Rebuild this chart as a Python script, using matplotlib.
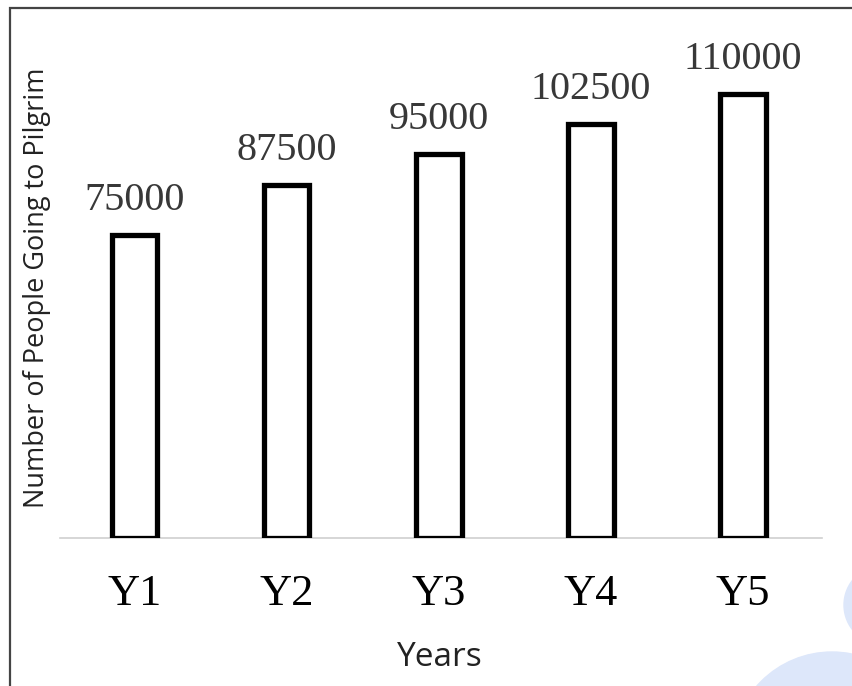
import matplotlib.pyplot as plt
from matplotlib.patches import Rectangle, Circle

years = ["Y1", "Y2", "Y3", "Y4", "Y5"]
pilgrims = [75000, 87500, 95000, 102500, 110000]

fig = plt.figure(figsize=(8.52, 6.86), dpi=100)
ax = fig.add_axes([0.0704, 0.2157, 0.8944, 0.7362])

x = range(len(years))
ax.bar(x, pilgrims, width=0.30, color="white", edgecolor="black", linewidth=3.8, zorder=3)

for xi, v in zip(x, pilgrims):
    ax.annotate(str(v), (xi, v), xytext=(0, 18), textcoords="offset points",
                ha="center", va="baseline", fontsize=29, color="#383838",
                family="Liberation Serif")

ax.set_xlim(-0.49, 4.52)
ax.set_ylim(0, 125000)
ax.set_xticks(list(x))
ax.set_xticklabels(years, family="Liberation Serif", fontsize=32, color="black")
ax.tick_params(axis="x", length=0, pad=26)
ax.set_yticks([])
for s in ["top", "right", "left"]:
    ax.spines[s].set_visible(False)
ax.spines["bottom"].set_color("#d0d0d0")
ax.spines["bottom"].set_linewidth(1.2)

fig.text(440 / 852, 1 - 657 / 686, "Years", ha="center", va="center",
         fontsize=24, family="Open Sans", color="#222222")
fig.text(37 / 852, 1 - 288 / 686, "Number of People Going to Pilgrim", ha="center",
         va="center", rotation=90, fontsize=19.5, family="Open Sans", color="#222222")

# frame around the picture (only left and top visible)
fig.patches.append(Rectangle((10 / 852, -0.1), 1.2, 1 - 8 / 686 + 0.1, transform=fig.transFigure,
                             fill=False, edgecolor="#444444", linewidth=1.6))
# light blue blobs in the corner (inch coordinates so they stay round)
fig.patches.append(Circle((8.84, (686 - 605) / 100), 0.40, transform=fig.dpi_scale_trans,
                          color="#dde7fa", zorder=0))
fig.patches.append(Circle((8.32, (686 - 752) / 100), 1.00, transform=fig.dpi_scale_trans,
                          color="#dde7fa", zorder=0))

fig.savefig("out.png", dpi=100)
